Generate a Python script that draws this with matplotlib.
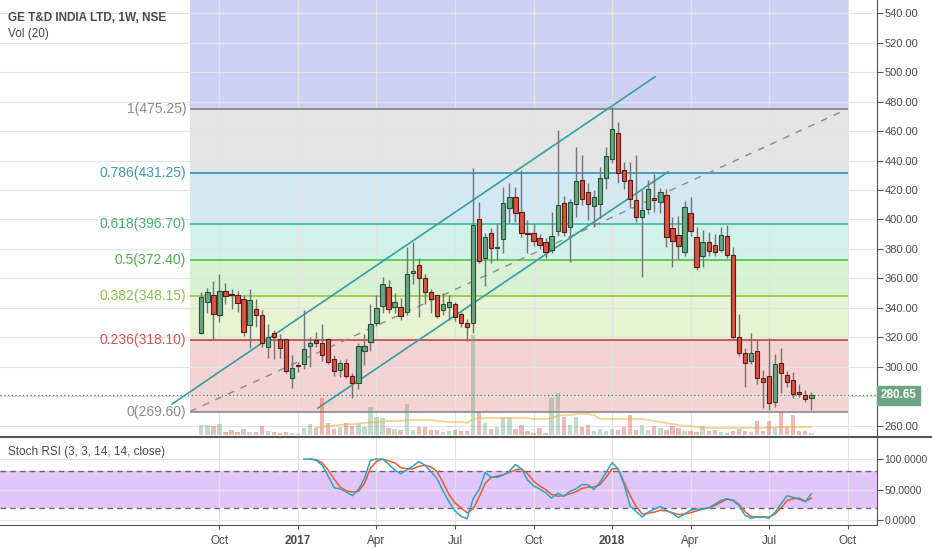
import matplotlib
matplotlib.use('Agg')
import matplotlib.pyplot as plt
import matplotlib.dates as mdates
from matplotlib.lines import Line2D
from matplotlib.transforms import blended_transform_factory
import numpy as np
import pandas as pd

plt.rcParams['font.family'] = ['Liberation Sans', 'DejaVu Sans']

# weekly bars, first one on 2016-09-12
opens = [323.1, 344.2, 348.7, 334.9, 351.7, 349.0, 348.7, 345.8, 328.2, 338.9,
         335.0, 313.6, 322.7, 318.7, 318.7, 292.2, 301.3, 301.7, 314.3, 318.2,
         316.0, 319.1, 305.1, 297.6, 302.4, 293.8, 288.8, 311.0, 317.0, 330.0,
         341.5, 354.0, 340.4, 340.9, 337.4, 363.5, 369.1, 360.0, 351.0, 348.5,
         338.6, 340.8, 342.6, 335.6, 329.5, 329.9, 400.1, 373.7, 390.6, 380.5,
         386.8, 408.0, 415.5, 405.3, 391.0, 390.6, 387.3, 384.9, 379.3, 392.2,
         411.4, 395.1, 410.3, 426.8, 418.5, 409.4, 410.6, 427.9, 440.9, 458.5,
         433.6, 426.8, 413.3, 401.9, 406.9, 414.6, 412.1, 416.6, 394.0, 389.5,
         377.7, 404.2, 388.3, 375.0, 384.5, 382.5, 379.3, 388.8, 375.7, 320.4,
         309.2, 304.1, 310.9, 292.2, 293.8, 276.3, 302.4, 294.4, 290.7, 283.1,
         280.6, 278.6]
highs = [350.6, 353.7, 358.5, 362.8, 356.7, 352.6, 351.7, 348.7, 352.6, 345.8,
         338.7, 329.0, 324.9, 322.0, 318.7, 308.0, 303.5, 338.6, 320.4, 323.6,
         328.9, 319.5, 308.0, 304.4, 305.1, 295.6, 315.9, 322.3, 342.4, 348.7,
         361.2, 358.9, 350.3, 346.6, 381.1, 385.0, 374.1, 363.0, 352.6, 349.0,
         349.9, 348.7, 344.0, 337.0, 332.2, 434.8, 412.1, 390.6, 394.0, 397.4,
         421.9, 424.6, 421.9, 433.6, 399.7, 396.7, 390.1, 387.3, 405.3, 460.8,
         416.0, 413.7, 449.4, 443.8, 424.6, 420.0, 435.9, 449.4, 476.6, 466.0,
         439.3, 439.0, 444.0, 420.0, 426.8, 431.0, 421.2, 420.5, 401.5, 402.4,
         412.8, 415.0, 395.0, 392.8, 391.7, 390.0, 395.0, 396.0, 381.0, 335.6,
         312.6, 323.0, 318.2, 297.8, 319.3, 308.7, 312.8, 297.0, 296.7, 288.6,
         284.2, 282.7]
lows = [322.5, 336.7, 318.9, 330.6, 342.6, 339.4, 337.3, 320.9, 312.6, 326.8,
        313.7, 306.2, 305.3, 306.2, 296.0, 285.8, 296.7, 298.5, 300.0, 313.7,
        304.1, 302.0, 294.0, 293.3, 292.2, 278.6, 285.0, 301.2, 311.0, 328.0,
        336.3, 336.3, 336.3, 332.0, 335.0, 356.0, 333.6, 342.6, 336.3, 333.0,
        335.0, 331.8, 331.0, 327.0, 317.7, 322.7, 370.3, 354.9, 370.7, 372.5,
        377.1, 397.4, 398.0, 388.0, 377.5, 382.0, 380.0, 374.1, 377.0, 389.0,
        389.0, 371.3, 402.0, 410.0, 399.7, 395.1, 400.8, 420.5, 438.0, 424.6,
        421.0, 408.0, 398.0, 360.8, 403.5, 405.0, 404.2, 381.1, 367.5, 373.0,
        374.9, 389.0, 366.0, 367.5, 375.4, 375.0, 378.0, 374.0, 319.0, 307.0,
        286.5, 302.0, 288.3, 271.8, 270.7, 273.0, 282.0, 286.0, 278.6, 279.7,
        276.3, 270.7]
closes = [347.6, 350.6, 335.6, 351.7, 348.3, 348.4, 343.5, 323.4, 345.3, 335.0,
          316.0, 320.0, 320.0, 313.0, 297.1, 299.0, 300.3, 311.9, 316.0, 316.0,
          308.0, 303.1, 297.1, 302.4, 293.8, 288.8, 314.1, 314.1, 329.1, 339.7,
          356.0, 339.3, 344.2, 334.6, 363.0, 365.0, 360.5, 351.0, 345.8, 334.6,
          342.6, 343.8, 334.0, 329.5, 327.2, 396.3, 371.8, 387.9, 380.5, 381.1,
          411.0, 415.1, 404.2, 390.6, 390.0, 385.4, 382.7, 378.1, 389.1, 409.9,
          391.7, 411.7, 426.3, 414.2, 410.6, 415.1, 427.9, 443.3, 461.2, 431.4,
          426.1, 413.7, 401.5, 406.4, 420.5, 413.3, 418.5, 387.9, 385.4, 382.0,
          408.2, 392.2, 367.5, 384.5, 378.8, 378.1, 389.3, 375.7, 320.4, 309.6,
          302.4, 309.2, 292.2, 289.9, 275.2, 301.9, 295.6, 289.9, 281.3, 281.3,
          278.0, 280.65]
# volume, relative units
volume = [10, 10, 9, 11, 3, 5, 3, 6, 3, 3, 9, 4, 3, 2, 3, 2, 1, 7, 11, 7, 37, 12, 6, 8,
          12, 9, 11, 8, 28, 18, 17, 7, 6, 5, 31, 5, 8, 8, 5, 5, 3, 4, 5, 4, 4, 100, 23, 12,
          6, 8, 18, 18, 6, 10, 4, 2, 7, 2, 37, 42, 18, 10, 18, 8, 10, 4, 6, 4, 6, 5, 8, 20, 5,
          10, 5, 9, 7, 5, 9, 7, 4, 4, 3, 9, 4, 5, 3, 2, 4, 6, 4, 3, 14,
          4, 14, 7, 23, 8, 20, 4, 4, 2]
# Vol (20) average, from bar 19 on
vol_ma = [7, 8.5, 9, 9.5, 10, 11, 11, 11.5, 12, 12.5,
          13, 13.5, 14, 14, 14, 15, 15, 15, 15, 15,
          14, 13.5, 13, 13, 13, 12, 16, 17, 17, 17,
          17, 17, 17, 17, 17, 17, 16, 16, 16, 17,
          19, 20, 20, 21, 21, 21, 20, 16, 16, 16,
          16, 16, 16, 16, 16, 15, 14, 13, 12, 11,
          10, 9, 9, 8, 7, 7, 7, 7, 7, 7,
          7, 7, 7, 7, 7, 7.5, 7.5, 8, 8, 8,
          8, 8, 8]
# Stoch RSI %K from bar 17, %D from bar 18
stoch_k = [100, 100, 98, 90, 72, 53, 51, 46, 40, 50,
           68, 98, 100, 100, 92, 82, 76, 82, 88, 96,
           90, 80, 68, 48, 30, 15, 6, 2, 35, 50,
           78, 70, 70, 74, 80, 91, 84, 66, 56, 51,
           45, 36, 44, 39, 47, 51, 58, 58, 50, 62,
           78, 94, 84, 58, 23, 14, 5, 13, 18, 22,
           16, 11, 4, 10, 16, 18, 18, 20, 26, 32,
           35, 32, 24, 8, 3, 5, 5, 3, 13, 27,
           40, 37, 34, 30, 43]
stoch_d = [100, 99, 94, 82, 67, 54, 48, 46, 47, 60,
           85, 96, 100, 97, 94, 86, 84, 84, 88, 90,
           87, 80, 62, 42, 28, 20, 12, 18, 38, 60,
           70, 72, 74, 78, 82, 84, 76, 64, 56, 50,
           42, 39, 40, 43, 46, 52, 54, 54, 58, 70,
           84, 84, 62, 40, 22, 10, 11, 13, 16, 15,
           12, 9, 10, 12, 15, 18, 20, 24, 29, 34,
           33, 26, 14, 6, 5, 5, 5, 10, 20, 32,
           35, 36, 31, 36]

fib_ratios = [0, 0.236, 0.382, 0.5, 0.618, 0.786, 1]
fib_prices = [269.60, 318.10, 348.15, 372.40, 396.70, 431.25, 475.25]
fib_fill = ['#da7070', '#b2da70', '#7ad46c', '#6cd7b9', '#70b6de', '#a8a8a8', '#6666e0']
fib_line = ['#8a8a8a', '#c0443a', '#94c83e', '#4cc44c', '#2ebf9a', '#2a8fb8', '#808080']
fib_text = ['#8a8a8a', '#d9534f', '#8bc34a', '#4cae4c', '#45b06a', '#3a98b8', '#8a8a8a']

tick_dates = ['2016-10-03', '2017-01-02', '2017-04-03', '2017-07-03', '2017-10-02',
              '2018-01-01', '2018-04-02', '2018-07-02', '2018-10-01']
tick_labels = ['Oct', '2017', 'Apr', 'Jul', 'Oct', '2018', 'Apr', 'Jul', 'Oct']
last_price = 280.65

UP, DOWN = '#6ba583', '#d75442'
UP_EDGE, DOWN_EDGE = '#225437', '#5b1a13'
TXT = '#4a4a4a'

start = pd.Timestamp('2016-09-12')


def wk(i):
    # week offset from first bar -> matplotlib date number
    return mdates.date2num(start + pd.Timedelta(days=7 * i))


x = np.array([wk(i) for i in range(len(closes))])
o, h, l, c = map(np.array, (opens, highs, lows, closes))
up = c >= o

fig = plt.figure(figsize=(9.32, 5.5), dpi=100)
ax = fig.add_axes([0, 1 - 437 / 550, 877 / 932, 437 / 550])
ax_s = fig.add_axes([0, 1 - 525 / 550, 877 / 932, 87 / 550], sharex=ax)

xlim = (wk(-33.33), wk(111.87))
ax.set_xlim(*xlim)
ax.set_ylim(252.3, 549.0)
ticks = mdates.date2num(pd.to_datetime(tick_dates))

# fibonacci retracement
fx0, fx1 = wk(-1.87), wk(107.1)
bounds = fib_prices + [549.0]
for k in range(len(fib_prices)):
    ax.fill_between([fx0, fx1], bounds[k], bounds[k + 1], color=fib_fill[k],
                    alpha=0.3, lw=0, zorder=1)
for r, p, lc, tc in zip(fib_ratios, fib_prices, fib_line, fib_text):
    ax.hlines(p, fx0, fx1, color=lc, lw=1.2, zorder=2)
    ax.text(wk(-2.5), p, f"{r:g}({p:.2f})", color=tc, fontsize=10,
            ha='right', va='center')
ax.plot([fx0, fx1], [fib_prices[0], fib_prices[-1]], color='#8c8c8c', lw=1,
        dashes=(5, 5), zorder=2)

# parallel channel
ax.plot([wk(-4.85), wk(75.1)], [274.7, 496.8], color='#31a0a0', lw=1.2, zorder=2)
ax.plot([wk(19.32), wk(77.27)], [272.0, 432.3], color='#31a0a0', lw=1.2, zorder=2)

# candles
ax.vlines(x, l, h, color='#737375', lw=1, zorder=3)
ax.bar(x, np.maximum(np.abs(c - o), 0.8), bottom=np.minimum(o, c), width=5,
       color=np.where(up, UP, DOWN), edgecolor=np.where(up, UP_EDGE, DOWN_EDGE),
       lw=0.8, zorder=4)
ax.axhline(last_price, color='#4a7f6a', ls=(0, (1, 2)), lw=0.9, zorder=2.5)

ax.set_yticks(range(260, 541, 20))
ax.set_xticks(ticks)
ax.grid(color='#e3e3e3', lw=0.8)
ax.set_axisbelow('line')

# volume overlay
ax_v = ax.twinx()
ax_v.set_ylim(-2, 435)
ax_v.bar(x, volume, width=5, color=np.where(up, UP, DOWN), alpha=0.4, lw=0)
ax_v.plot(x[19:], vol_ma, color='#f5b041', alpha=0.6, lw=1.2)
ax_v.axis('off')

ax.yaxis.tick_right()
# the 280 label sits under the last-price box
ax.yaxis.set_major_formatter(plt.FuncFormatter(
    lambda v, _: '' if abs(v - 280) < 1 else f"{v:.2f}"))
ax.tick_params(axis='y', length=4, color='#555555', labelcolor=TXT, labelsize=8, pad=1.5)
ax.tick_params(axis='x', length=0, labelbottom=False)
for s in ('top', 'left', 'bottom'):
    ax.spines[s].set_visible(False)
ax.spines['right'].set_color('#555555')

tr = blended_transform_factory(ax.transAxes, ax.transData)
ax.text(1.004, last_price, f"{last_price:.2f}", transform=tr, color='white',
        fontsize=8.5, fontweight='bold', va='center', ha='left', zorder=10,
        bbox=dict(boxstyle='square,pad=0.3', fc=UP, ec=UP))

# stoch rsi panel
ax_s.set_ylim(-8.1, 134.5)
ax_s.axhspan(20, 80, color='#e2c6fb', lw=0, zorder=1)
ax_s.axhline(80, color='#6e6470', lw=1, dashes=(4, 3), zorder=2)
ax_s.axhline(20, color='#6e6470', lw=1, dashes=(4, 3), zorder=2)
ax_s.plot(x[18:], stoch_d, color='#f0592a', lw=1.1, zorder=3)
ax_s.plot(x[17:], stoch_k, color='#2aa6c0', lw=1.1, zorder=3)
ax_s.set_yticks([0, 50, 100])
ax_s.yaxis.set_major_formatter(plt.FuncFormatter(lambda v, _: f"{v:.4f}"))
ax_s.yaxis.tick_right()
ax_s.grid(color='#e3e3e3', lw=0.8)
ax_s.set_axisbelow('line')
ax_s.set_xticks(ticks)
ax_s.set_xticklabels(tick_labels)
for t in ax_s.get_xticklabels():
    if t.get_text().isdigit():
        t.set_fontweight('bold')
ax_s.tick_params(axis='y', length=4, color='#555555', labelcolor=TXT, labelsize=7.5, pad=1.5)
ax_s.tick_params(axis='x', length=3, color='#555555', labelcolor=TXT, labelsize=8.5, pad=4)
ax_s.spines['top'].set_visible(False)
ax_s.spines['left'].set_visible(False)
ax_s.spines['right'].set_color('#555555')
ax_s.spines['bottom'].set_color('#555555')

# panel separator
fig.add_artist(Line2D([0, 1], [1 - 436.5 / 550] * 2, color='#555555', lw=1.5))

fig.text(8 / 932, 1 - 18 / 550, 'GE T&D INDIA LTD, 1W, NSE', fontsize=8.5,
         fontweight='bold', color=TXT, va='center')
fig.text(8 / 932, 1 - 34 / 550, 'Vol (20)', fontsize=8.5, color=TXT, va='center')
fig.text(8 / 932, 1 - 452 / 550, 'Stoch RSI (3, 3, 14, 14, close)', fontsize=8.5,
         color=TXT, va='center')

fig.savefig('out.png', dpi=100)
